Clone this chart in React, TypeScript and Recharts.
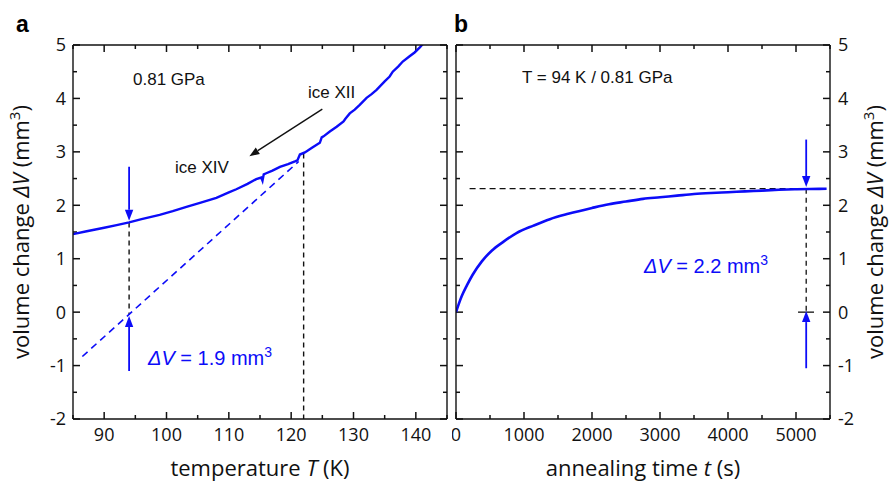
import React from 'react';
import { LineChart, Line, XAxis, YAxis, ReferenceLine } from 'recharts';

// ─── data ────────────────────────────────────────────────────────────────────
// panel a: heating curve (ice XIV -> ice XII)
const tempK = [
  85, 87, 90, 92, 94, 96, 98.9, 101, 103.2, 105.5, 108, 110, 111.2, 113, 114.4, 115.2, 115.4,
  115.6, 116, 117, 118.2, 119.5, 120.6, 121, 121.4, 122.2, 123.4, 124.6, 124.9, 125.2, 126.2,
  127.3, 128.4, 128.7, 129.4, 130.2, 131.0, 132.1, 132.9, 133.7, 135.0, 135.8, 136.3, 137.2,
  137.9, 139, 139.8, 140.6, 141.2,
];
const volTemp = [
  1.46, 1.51, 1.58, 1.63, 1.68, 1.74, 1.82, 1.89, 1.97, 2.05, 2.14, 2.24, 2.3, 2.4, 2.49, 2.52,
  2.46, 2.58, 2.6, 2.65, 2.72, 2.77, 2.82, 2.84, 2.95, 2.99, 3.08, 3.17, 3.27, 3.29, 3.38, 3.47,
  3.57, 3.62, 3.72, 3.79, 3.88, 4.01, 4.08, 4.16, 4.32, 4.41, 4.5, 4.6, 4.69, 4.79, 4.86, 4.95,
  5.03,
];
// extrapolated ice XII line
const extrapT = [86.5, 121.2];
const extrapV = [-0.83, 2.82];

// panel b: isothermal annealing
const timeS = [
  0, 40, 85, 160, 245, 380, 525, 700, 890, 1140, 1380, 1650, 2000, 2250, 2500, 2750, 3000, 3250,
  3500, 3750, 4000, 4250, 4500, 4750, 5000, 5200, 5450,
];
const volTime = [
  0, 0.15, 0.3, 0.5, 0.7, 0.95, 1.15, 1.32, 1.48, 1.62, 1.74, 1.84, 1.95, 2.02, 2.07, 2.12, 2.15,
  2.18, 2.21, 2.23, 2.245, 2.26, 2.275, 2.29, 2.3, 2.305, 2.31,
];

// axes
const yDomain = [-2, 5];
const yTicks = [-2, -1.5, -1, -0.5, 0, 0.5, 1, 1.5, 2, 2.5, 3, 3.5, 4, 4.5, 5];
const tDomain = [85, 145];
const tTicks = [85, 90, 95, 100, 105, 110, 115, 120, 125, 130, 135, 140, 145];
const sDomain = [0, 5500];
const sTicks = [0, 500, 1000, 1500, 2000, 2500, 3000, 3500, 4000, 4500, 5000, 5500];

const curveA = tempK.map((x, i) => ({ x, v: volTemp[i] }));
const lineA = extrapT.map((x, i) => ({ x, v: extrapV[i] }));
const curveB = timeS.map((x, i) => ({ x, v: volTime[i] }));

const BLUE = '#0c0cf8';
const INK = '#111';
const TICK_FONT = "'Open Sans', sans-serif";
const NOTE_FONT = "'Liberation Sans', Arial, sans-serif";

const isMajor = (v: number, step: number) => Math.abs(v / step - Math.round(v / step)) < 1e-6;

// tick labels only, majors only
type Side = 'left' | 'right' | 'bottom';
const makeLabel = (side: Side, majorStep: number) => (props: any) => {
  const { x, y, payload } = props;
  const v = payload.value as number;
  if (!isMajor(v, majorStep)) return <g />;
  const txt = { fontFamily: TICK_FONT, fontSize: 18, fill: INK };
  if (side === 'bottom')
    return <text x={x} y={y} dy="0.75em" textAnchor="middle" {...txt}>{v}</text>;
  return (
    <text x={x} y={y} dy="0.36em" textAnchor={side === 'left' ? 'end' : 'start'} {...txt}>
      {v}
    </text>
  );
};

// inward tick marks on both frame edges, drawn on a frame-wide reference segment
const hTicks = (len: number) => (props: any) => {
  const { x1, x2, y1 } = props;
  const l = Math.min(x1, x2);
  const r = Math.max(x1, x2);
  return (
    <g>
      <line x1={l} y1={y1} x2={l + len} y2={y1} stroke={INK} strokeWidth={1.5} />
      <line x1={r} y1={y1} x2={r - len} y2={y1} stroke={INK} strokeWidth={1.5} />
    </g>
  );
};
const vTicks = (len: number) => (props: any) => {
  const { x1, y1, y2 } = props;
  const t = Math.min(y1, y2);
  const b = Math.max(y1, y2);
  return (
    <g>
      <line x1={x1} y1={b} x2={x1} y2={b - len} stroke={INK} strokeWidth={1.5} />
      <line x1={x1} y1={t} x2={x1} y2={t + len} stroke={INK} strokeWidth={1.5} />
    </g>
  );
};

// arrow shape for ReferenceLine segments, head at the second point
const arrowShape = (color: string, width: number, head: number) => (props: any) => {
  const { x1, y1, x2, y2 } = props;
  const dx = x2 - x1;
  const dy = y2 - y1;
  const d = Math.hypot(dx, dy) || 1;
  const ux = dx / d;
  const uy = dy / d;
  const bx = x2 - ux * head;
  const by = y2 - uy * head;
  const hw = head * 0.38;
  return (
    <g>
      <line x1={x1} y1={y1} x2={bx} y2={by} stroke={color} strokeWidth={width} />
      <polygon
        points={`${x2},${y2} ${bx - uy * hw},${by + ux * hw} ${bx + uy * hw},${by - ux * hw}`}
        fill={color}
      />
    </g>
  );
};

const axisLine = { stroke: INK, strokeWidth: 1.4 };

const PanelA = () => (
  <LineChart width={452} height={483} margin={{ top: 44, right: 4, bottom: 34, left: 0 }}>
    <XAxis
      xAxisId="b"
      dataKey="x"
      type="number"
      domain={tDomain}
      ticks={tTicks}
      interval={0}
      height={30}
      tickSize={0}
      tickMargin={8}
      tickLine={false}
      axisLine={axisLine}
      tick={makeLabel('bottom', 10)}
      allowDataOverflow
    />
    <XAxis xAxisId="t" orientation="top" type="number" domain={tDomain} height={1} tick={false} tickLine={false} axisLine={axisLine} allowDataOverflow />
    <YAxis
      yAxisId="l"
      type="number"
      domain={yDomain}
      ticks={yTicks}
      interval={0}
      width={73}
      tickSize={0}
      tickMargin={7}
      tickLine={false}
      axisLine={axisLine}
      tick={makeLabel('left', 1)}
      allowDataOverflow
    />
    <YAxis yAxisId="r" orientation="right" type="number" domain={yDomain} width={1} tick={false} tickLine={false} axisLine={axisLine} allowDataOverflow />
    {yTicks.map((v) => (
      <ReferenceLine key={`y${v}`} xAxisId="b" yAxisId="l" segment={[{ x: tDomain[0], y: v }, { x: tDomain[1], y: v }]} shape={hTicks(isMajor(v, 1) ? 7 : 4)} />
    ))}
    {tTicks.map((v) => (
      <ReferenceLine key={`x${v}`} xAxisId="b" yAxisId="l" segment={[{ x: v, y: yDomain[0] }, { x: v, y: yDomain[1] }]} shape={vTicks(isMajor(v, 10) ? 7 : 4)} />
    ))}
    <ReferenceLine xAxisId="b" yAxisId="l" segment={[{ x: 94, y: 1.68 }, { x: 94, y: -0.05 }]} stroke={INK} strokeWidth={1.4} strokeDasharray="5 4" />
    <ReferenceLine xAxisId="b" yAxisId="l" segment={[{ x: 122, y: 2.97 }, { x: 122, y: -2 }]} stroke={INK} strokeWidth={1.4} strokeDasharray="5 4" />
    <Line xAxisId="b" yAxisId="l" data={lineA} dataKey="v" stroke={BLUE} strokeWidth={1.6} strokeDasharray="7 5" dot={false} isAnimationActive={false} />
    <Line xAxisId="b" yAxisId="l" data={curveA} dataKey="v" type="linear" stroke={BLUE} strokeWidth={2.4} dot={false} isAnimationActive={false} />
    <ReferenceLine xAxisId="b" yAxisId="l" segment={[{ x: 94, y: 2.72 }, { x: 94, y: 1.71 }]} shape={arrowShape(BLUE, 1.8, 11)} />
    <ReferenceLine xAxisId="b" yAxisId="l" segment={[{ x: 94, y: -1.1 }, { x: 94, y: -0.07 }]} shape={arrowShape(BLUE, 1.8, 11)} />
    <ReferenceLine xAxisId="b" yAxisId="l" segment={[{ x: 125, y: 3.8 }, { x: 113.3, y: 2.92 }]} shape={arrowShape(INK, 1.4, 10)} />
  </LineChart>
);

const PanelB = () => (
  <LineChart width={439} height={483} margin={{ top: 44, right: 0, bottom: 34, left: 3 }}>
    <XAxis
      xAxisId="b"
      dataKey="x"
      type="number"
      domain={sDomain}
      ticks={sTicks}
      interval={0}
      height={30}
      tickSize={0}
      tickMargin={8}
      tickLine={false}
      axisLine={axisLine}
      tick={makeLabel('bottom', 1000)}
      allowDataOverflow
    />
    <XAxis xAxisId="t" orientation="top" type="number" domain={sDomain} height={1} tick={false} tickLine={false} axisLine={axisLine} allowDataOverflow />
    <YAxis yAxisId="l" type="number" domain={yDomain} width={1} tick={false} tickLine={false} axisLine={axisLine} allowDataOverflow />
    <YAxis
      yAxisId="r"
      orientation="right"
      type="number"
      domain={yDomain}
      ticks={yTicks}
      interval={0}
      width={61}
      tickSize={0}
      tickMargin={8}
      tickLine={false}
      axisLine={axisLine}
      tick={makeLabel('right', 1)}
      allowDataOverflow
    />
    {yTicks.map((v) => (
      <ReferenceLine key={`y${v}`} xAxisId="b" yAxisId="l" segment={[{ x: sDomain[0], y: v }, { x: sDomain[1], y: v }]} shape={hTicks(isMajor(v, 1) ? 7 : 4)} />
    ))}
    {sTicks.map((v) => (
      <ReferenceLine key={`x${v}`} xAxisId="b" yAxisId="l" segment={[{ x: v, y: yDomain[0] }, { x: v, y: yDomain[1] }]} shape={vTicks(isMajor(v, 1000) ? 7 : 4)} />
    ))}
    <ReferenceLine xAxisId="b" yAxisId="l" segment={[{ x: 200, y: 2.31 }, { x: 5350, y: 2.31 }]} stroke={INK} strokeWidth={1.3} strokeDasharray="6 4" />
    <ReferenceLine xAxisId="b" yAxisId="l" segment={[{ x: 5150, y: 2.31 }, { x: 5150, y: 0 }]} stroke={INK} strokeWidth={1.3} strokeDasharray="5 4" />
    <ReferenceLine xAxisId="b" yAxisId="l" segment={[{ x: 5030, y: 0 }, { x: 5265, y: 0 }]} stroke={INK} strokeWidth={1.3} />
    <Line xAxisId="b" yAxisId="l" data={curveB} dataKey="v" type="monotone" stroke={BLUE} strokeWidth={2.6} dot={false} isAnimationActive={false} />
    <ReferenceLine xAxisId="b" yAxisId="l" segment={[{ x: 5150, y: 3.23 }, { x: 5150, y: 2.34 }]} shape={arrowShape(BLUE, 1.8, 11)} />
    <ReferenceLine xAxisId="b" yAxisId="l" segment={[{ x: 5150, y: -1.05 }, { x: 5150, y: 0.02 }]} shape={arrowShape(BLUE, 1.8, 11)} />
  </LineChart>
);

const yTitle = (
  <>
    volume change <tspan fontStyle="italic">ΔV</tspan> (mm
    <tspan dy={-9} fontSize={15}>3</tspan>
    <tspan dy={9}>)</tspan>
  </>
);

const Overlay = () => (
  <svg width={891} height={483} style={{ position: 'absolute', left: 0, top: 0, pointerEvents: 'none' }}>
    <g fontFamily={NOTE_FONT} fontWeight="bold" fontSize={23} fill="#000">
      <text x={16} y={32}>a</text>
      <text x={454} y={32}>b</text>
    </g>
    <g fontFamily={NOTE_FONT} fontSize={17} fill={INK}>
      <text x={133} y={85}>0.81 GPa</text>
      <text x={308} y={98}>ice XII</text>
      <text x={175} y={173}>ice XIV</text>
      <text x={522} y={83}>T = 94 K / 0.81 GPa</text>
    </g>
    <g fontFamily={NOTE_FONT} fontSize={20} fill={BLUE}>
      <text x={148} y={365}>
        <tspan fontStyle="italic">ΔV</tspan> = 1.9 mm<tspan dy={-8} fontSize={14}>3</tspan>
      </text>
      <text x={644} y={273}>
        <tspan fontStyle="italic">ΔV</tspan> = 2.2 mm<tspan dy={-8} fontSize={14}>3</tspan>
      </text>
    </g>
    <g fontFamily={TICK_FONT} fontSize={22} fill={INK} textAnchor="middle">
      <text x={260} y={476}>
        temperature <tspan fontStyle="italic">T</tspan> (K)
      </text>
      <text x={643} y={476}>
        annealing time <tspan fontStyle="italic">t</tspan> (s)
      </text>
      <text transform="translate(29 232) rotate(-90)">{yTitle}</text>
      <text transform="translate(883 232) rotate(-90)">{yTitle}</text>
    </g>
  </svg>
);

export default function App() {
  return (
    <div style={{ position: 'absolute', left: 0, top: 0, width: 891, height: 483, background: '#fff' }}>
      <div style={{ position: 'absolute', left: 0, top: 0 }}>
        <PanelA />
      </div>
      <div style={{ position: 'absolute', left: 452, top: 0 }}>
        <PanelB />
      </div>
      <Overlay />
    </div>
  );
}
